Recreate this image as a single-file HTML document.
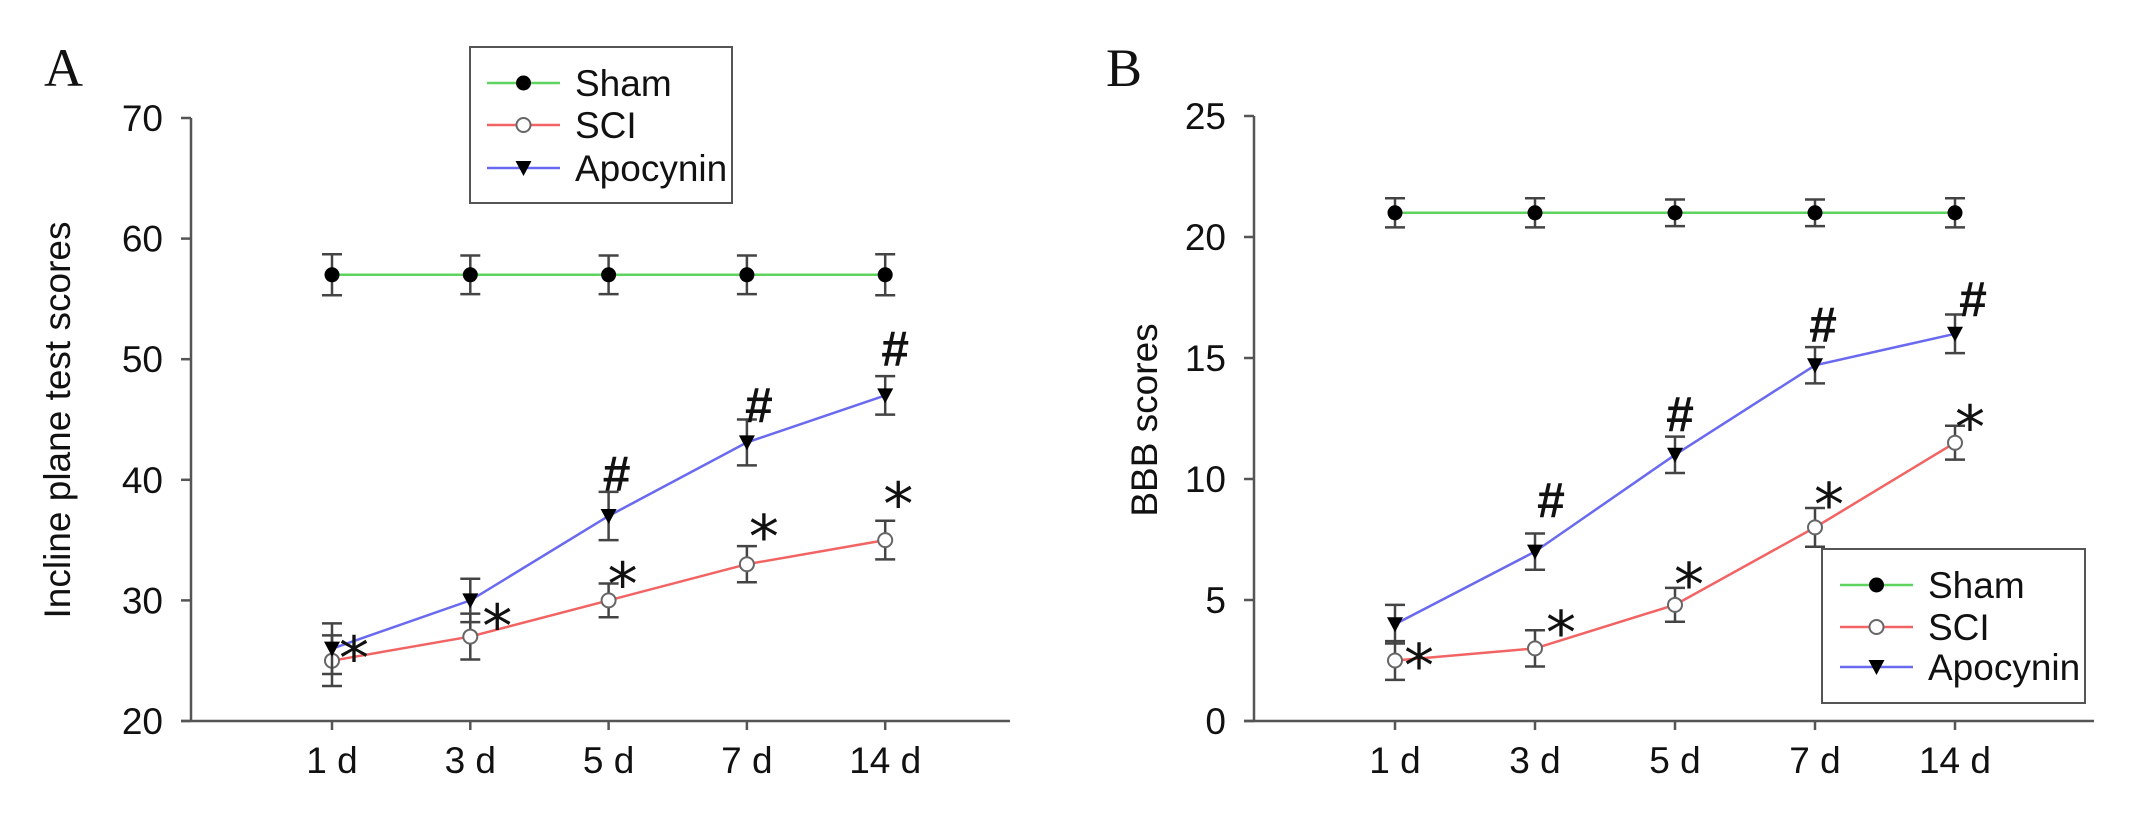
<!DOCTYPE html>
<html><head><meta charset="utf-8"><style>
html,body{margin:0;padding:0;background:#fff;}
svg{display:block;}
text{font-family:"Liberation Sans",sans-serif;fill:#111;}
</style></head><body>
<svg id="chart" width="2139" height="819" viewBox="0 0 2139 819" xmlns="http://www.w3.org/2000/svg"></svg>
<script>
const categories = ["1 d","3 d","5 d","7 d","14 d"];
// Panel A
const aTicks = [20,30,40,50,60,70];
const aSham = [57,57,57,57,57];
const aShamErr = [1.7,1.6,1.6,1.6,1.7];
const aSci = [25,27,30,33,35];
const aSciErr = [2.1,1.9,1.4,1.5,1.6];
const aApo = [26,30,37,43.1,47];
const aApoErr = [2.1,1.8,2.0,1.9,1.6];
// Panel B
const bTicks = [0,5,10,15,20,25];
const bSham = [21,21,21,21,21];
const bShamErr = [0.6,0.6,0.55,0.55,0.6];
const bSci = [2.5,3,4.8,8,11.5];
const bSciErr = [0.8,0.75,0.7,0.8,0.7];
const bApo = [4,7,11,14.7,16];
const bApoErr = [0.8,0.75,0.75,0.75,0.8];

const NS = "http://www.w3.org/2000/svg";
const svg = document.getElementById('chart');
function mk(tag, attrs, parent){
  const e = document.createElementNS(NS, tag);
  for (const k in attrs) e.setAttribute(k, attrs[k]);
  (parent||svg).appendChild(e);
  return e;
}

function panel(cfg){
  const g = mk('g', {});
  
  
  const ymin = cfg.ticks[0], ymax = cfg.ticks[cfg.ticks.length-1];
  const y = v => cfg.y0 - (v - ymin) / (ymax - ymin) * (cfg.y0 - cfg.y1);
  const x = i => cfg.xFirst + i * cfg.xStep;

  const ya = mk('line', {x1:cfg.ax, y1:cfg.y1, x2:cfg.ax, y2:cfg.y0, stroke:'#555', 'stroke-width':2.5}, g);
  
  
  const xa = mk('line', {x1:cfg.ax-10, y1:cfg.y0, x2:cfg.axEnd, y2:cfg.y0, stroke:'#555', 'stroke-width':2.5}, g);
  
  
  cfg.ticks.forEach(t => {
    mk('line', {x1:cfg.ax-10, y1:y(t), x2:cfg.ax, y2:y(t), stroke:'#555', 'stroke-width':2.5}, g);
    const tl = mk('text', {x:cfg.ax-28, y:y(t)+13, 'text-anchor':'end', 'font-size':37}, g);
    tl.textContent = t;
    
    
  });
  categories.forEach((c, i) => {
    mk('line', {x1:x(i), y1:cfg.y0, x2:x(i), y2:cfg.y0+9, stroke:'#555', 'stroke-width':2.5}, g);
    const xl = mk('text', {x:x(i), y:cfg.y0+52, 'text-anchor':'middle', 'font-size':37}, g);
    xl.textContent = c;
    
    
  });
  const yt = mk('text', {x:0, y:0, 'text-anchor':'middle', 'font-size':37, transform:`translate(${cfg.ytx},${cfg.yty}) rotate(-90)`}, g);
  yt.textContent = cfg.ytitle;
  
  
  const pl = mk('text', {x:cfg.lx, y:cfg.ly, 'font-size':54, style:'font-family:"Liberation Serif",serif'}, g);
  pl.textContent = cfg.letter;
  
  

  const series = [
    {name:'sham', vals:cfg.sham, err:cfg.shamErr, color:'#5fd35f', marker:'dot'},
    {name:'sci', vals:cfg.sci, err:cfg.sciErr, color:'#f26464', marker:'open'},
    {name:'apocynin', vals:cfg.apo, err:cfg.apoErr, color:'#6a6af0', marker:'tri'}
  ];
  series.forEach(s => {
    const pts = s.vals.map((v,i) => `${x(i)},${y(v)}`).join(' ');
    const ln = mk('polyline', {points:pts, fill:'none', stroke:s.color, 'stroke-width':2.5}, g);
    
    
  });
  series.forEach(s => {
    s.vals.forEach((v,i) => {
      const hi = y(v + s.err[i]), lo = y(v - s.err[i]);
      const eb = mk('path', {d:`M${x(i)},${hi}V${lo}M${x(i)-10},${hi}H${x(i)+10}M${x(i)-10},${lo}H${x(i)+10}`, stroke:'#444', 'stroke-width':2.5, fill:'none'}, g);
      
      
      drawMarker(g, s.marker, x(i), y(v), s.name + '-point');
    });
  });
  cfg.notes.forEach(n => {
    const s = series[n[0]];
    const i = n[1];
    const top = y(s.vals[i] + s.err[i]);
    const cx = x(i)+n[3], cy = top+n[4];
    let t;
    if (n[2] === '#') {
      t = mk('text', {x:cx, y:cy+17, 'text-anchor':'middle', 'font-size':50, 'font-weight':'bold'}, g);
    } else {
      t = mk('text', {x:cx, y:cy+0.59*60, 'text-anchor':'middle', 'font-size':60,
        style:'font-family:"DejaVu Sans",sans-serif'}, g);
    }
    t.textContent = n[2];
    
    
  });
  const lg = mk('g', {}, g);
  
  
  mk('rect', {x:cfg.legX, y:cfg.legY, width:cfg.legW, height:cfg.legH, fill:'#fff', stroke:'#555', 'stroke-width':2}, lg);
  const labels = ['Sham','SCI','Apocynin'];
  series.forEach((s, k) => {
    const ry = cfg.legY + cfg.rowY[k];
    const e = mk('g', {}, lg);
    
    
    mk('line', {x1:cfg.legX+cfg.lineX0, y1:ry, x2:cfg.legX+cfg.lineX1, y2:ry, stroke:s.color, 'stroke-width':2.5}, e);
    drawMarker(e, s.marker, cfg.legX+(cfg.lineX0+cfg.lineX1)/2, ry, 'legend-marker');
    const tx = mk('text', {x:cfg.legX+cfg.textX, y:ry+13, 'font-size':37}, e);
    tx.textContent = labels[k];
  });
}

function drawMarker(parent, type, cx, cy, name){
  let m;
  if (type === 'dot') m = mk('circle', {cx:cx, cy:cy, r:7.5, fill:'#000'}, parent);
  else if (type === 'open') m = mk('circle', {cx:cx, cy:cy, r:7, fill:'#fff', stroke:'#666', 'stroke-width':2}, parent);
  else m = mk('path', {d:`M${cx-8},${cy-7}H${cx+8}L${cx},${cy+8}Z`, fill:'#000'}, parent);
  
  
}

panel({name:'panel-a', letter:'A', lx:44, ly:86, ticks:aTicks, y0:721, y1:118, ax:191, axEnd:1010,
  xFirst:332, xStep:138.3, ytitle:'Incline plane test scores', ytx:70, yty:420,
  sham:aSham, shamErr:aShamErr, sci:aSci, sciErr:aSciErr, apo:aApo, apoErr:aApoErr,
  legX:470, legY:47, legW:262, legH:156, rowY:[36,78,121], lineX0:17, lineX1:90, textX:105,
  notes:[[1,0,'*',22,8],[1,1,'*',27,-2],[1,2,'*',14,-14],[1,3,'*',17,-24],[1,4,'*',13,-31],
         [2,2,'#',8,-18],[2,3,'#',12,-14],[2,4,'#',10,-27]]
});
panel({name:'panel-b', letter:'B', lx:1106, ly:86, ticks:bTicks, y0:721, y1:116, ax:1254, axEnd:2094,
  xFirst:1395, xStep:140, ytitle:'BBB scores', ytx:1157, yty:420,
  sham:bSham, shamErr:bShamErr, sci:bSci, sciErr:bSciErr, apo:bApo, apoErr:bApoErr,
  legX:1822, legY:549, legW:263, legH:154, rowY:[36,78,118], lineX0:18, lineX1:91, textX:106,
  notes:[[1,0,'*',24,10],[1,1,'*',26,-12],[1,2,'*',14,-18],[1,3,'*',14,-18],[1,4,'*',15,-13],
         [2,1,'#',16,-33],[2,2,'#',5,-22],[2,3,'#',8,-22],[2,4,'#',18,-15]]
});
</script>
</body></html>
